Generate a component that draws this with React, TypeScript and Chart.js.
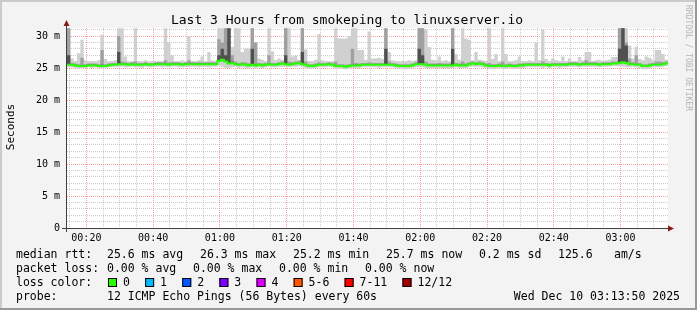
import React, { useEffect, useRef } from 'react';
import { Chart, registerables } from 'chart.js';
Chart.register(...registerables);

const W = 697;
const H = 310;
const START_MIN = 14.2; // graph starts at 00:14:12
const SPAN_MIN = 180;

const titleText = 'Last 3 Hours from smokeping to linuxserver.io';
const yAxisTitle = 'Seconds';
const watermark = 'RRDTOOL / TOBI OETIKER';

const timeTicks = [20, 40, 60, 80, 100, 120, 140, 160, 180];
const timeTickLabels = ['00:20', '00:40', '01:00', '01:20', '01:40', '02:00', '02:20', '02:40', '03:00'];
const yTicks = [0, 5, 10, 15, 20, 25, 30];
const yTickLabels = ['0', '5 m', '10 m', '15 m', '20 m', '25 m', '30 m'];

// per-minute median rtt (ms)
const median = [
  25.5, 25.5, 25.4, 25.3, 25.3, 25.3, 25.4, 25.4, 25.4, 25.3,
  25.3, 25.3, 25.4, 25.5, 25.5, 25.6, 25.6, 25.6, 25.5, 25.6,
  25.5, 25.5, 25.5, 25.6, 25.5, 25.5, 25.6, 25.6, 25.6, 25.6,
  25.5, 25.6, 25.6, 25.6, 25.5, 25.6, 25.6, 25.6, 25.6, 25.6,
  25.6, 25.6, 25.6, 25.6, 25.6, 26.1, 26.3, 26.0, 25.7, 25.8,
  25.6, 25.5, 25.6, 25.5, 25.4, 25.5, 25.4, 25.5, 25.4, 25.5,
  25.6, 25.5, 25.5, 25.6, 25.7, 25.6, 25.5, 25.6, 25.7, 25.8,
  25.6, 25.5, 25.3, 25.3, 25.4, 25.5, 25.5, 25.5, 25.6, 25.5,
  25.3, 25.3, 25.3, 25.2, 25.3, 25.4, 25.4, 25.4, 25.5, 25.5,
  25.5, 25.5, 25.5, 25.5, 25.5, 25.5, 25.5, 25.5, 25.4, 25.3,
  25.3, 25.3, 25.3, 25.4, 25.6, 25.6, 25.6, 25.5, 25.4, 25.4,
  25.4, 25.4, 25.4, 25.4, 25.4, 25.4, 25.5, 25.4, 25.4, 25.4,
  25.6, 25.7, 25.6, 25.7, 25.6, 25.4, 25.3, 25.3, 25.3, 25.4,
  25.3, 25.3, 25.4, 25.3, 25.3, 25.4, 25.4, 25.5, 25.5, 25.5,
  25.5, 25.5, 25.5, 25.5, 25.4, 25.5, 25.5, 25.5, 25.5, 25.5,
  25.6, 25.6, 25.6, 25.5, 25.6, 25.6, 25.6, 25.6, 25.6, 25.5,
  25.6, 25.6, 25.6, 25.7, 25.7, 25.8, 25.9, 25.8, 25.6, 25.6,
  25.5, 25.5, 25.3, 25.3, 25.4, 25.5, 25.5, 25.5, 25.6, 25.7,
];

// slowest ping of each minute (light smoke top)
const smokeMax = [
  31.2, 26.5, 26.1, 27.3, 29.4, 26.2, 26.0, 26.1, 26.0, 26.2,
  30.2, 26.4, 26.0, 26.1, 26.2, 31.2, 31.2, 26.8, 26.1, 26.0,
  31.2, 26.1, 26.0, 26.2, 26.0, 26.1, 26.0, 26.1, 26.0, 31.2,
  29.0, 27.0, 26.1, 26.0, 26.2, 26.0, 30.0, 26.1, 26.0, 26.2,
  26.8, 26.0, 27.5, 26.2, 26.1, 31.2, 31.2, 31.2, 31.2, 28.3,
  31.2, 31.2, 27.5, 28.0, 28.0, 31.2, 29.0, 26.5, 26.3, 26.1,
  31.2, 27.6, 26.2, 26.5, 26.3, 31.2, 31.2, 26.8, 26.9, 26.3,
  31.2, 27.9, 26.1, 26.0, 26.3, 30.3, 26.2, 26.1, 26.0, 26.1,
  31.2, 29.6, 29.6, 29.6, 30.0, 31.2, 31.2, 27.8, 27.8, 26.3,
  30.7, 26.5, 26.5, 26.6, 26.4, 31.2, 27.5, 26.2, 26.1, 26.0,
  26.1, 26.0, 26.2, 26.1, 26.2, 31.2, 31.2, 31.0, 28.3, 26.3,
  26.2, 26.8, 26.1, 26.2, 26.0, 31.2, 27.2, 26.3, 31.2, 29.6,
  29.4, 26.2, 27.5, 26.3, 26.2, 26.1, 31.2, 26.4, 27.2, 26.1,
  31.2, 27.2, 26.0, 26.1, 26.2, 26.8, 26.1, 26.0, 26.2, 26.1,
  29.0, 26.2, 31.0, 26.4, 26.1, 26.5, 26.2, 26.1, 26.8, 26.0,
  26.5, 26.1, 26.0, 26.7, 26.2, 27.5, 27.5, 26.1, 26.2, 26.3,
  26.1, 26.2, 26.3, 26.7, 26.7, 31.2, 31.2, 31.2, 28.5, 26.5,
  28.3, 26.4, 26.2, 26.8, 26.6, 26.3, 27.8, 27.8, 27.2, 26.3,
];

// inner pings (medium smoke top)
const smokeMid = [
  31.2, 25.8, 25.7, 25.6, 26.6, 25.6, 25.7, 25.7, 25.7, 25.6,
  27.8, 25.6, 25.7, 25.8, 25.8, 30.0, 26.0, 25.9, 25.8, 25.9,
  26.0, 25.8, 25.8, 25.9, 25.8, 25.8, 25.9, 25.9, 25.9, 26.2,
  25.9, 25.9, 25.9, 25.9, 25.8, 25.9, 26.2, 25.9, 25.9, 25.9,
  25.9, 25.9, 25.9, 25.9, 25.9, 29.5, 29.0, 31.2, 31.2, 27.0,
  26.0, 25.8, 25.9, 25.9, 25.7, 31.2, 29.0, 25.8, 25.7, 25.8,
  27.0, 25.8, 25.8, 25.9, 26.0, 31.2, 26.0, 25.9, 26.0, 26.1,
  31.2, 26.0, 25.6, 25.6, 25.7, 25.9, 25.8, 25.8, 25.9, 25.8,
  26.0, 25.6, 25.6, 25.5, 25.6, 28.0, 25.8, 25.7, 25.8, 25.8,
  25.9, 25.8, 25.8, 25.8, 25.8, 31.2, 26.0, 25.8, 25.7, 25.6,
  25.6, 25.6, 25.6, 25.7, 25.9, 31.2, 31.2, 26.0, 25.7, 25.7,
  25.7, 25.8, 25.7, 25.7, 25.7, 31.2, 25.8, 25.7, 26.0, 25.7,
  25.9, 26.0, 25.9, 26.0, 25.9, 25.7, 25.8, 25.6, 25.6, 25.7,
  26.0, 25.6, 25.7, 25.6, 25.6, 25.7, 25.7, 25.8, 25.8, 25.8,
  25.8, 25.8, 26.0, 25.8, 25.7, 25.8, 25.8, 25.8, 25.8, 25.8,
  25.9, 25.9, 25.9, 25.8, 25.9, 26.2, 25.9, 25.9, 25.9, 25.8,
  25.9, 25.9, 25.9, 26.0, 26.0, 31.2, 31.2, 29.0, 26.5, 25.9,
  27.0, 25.8, 25.6, 25.6, 25.7, 25.8, 26.0, 26.0, 25.9, 26.0,
];

// innermost pings (dark smoke top)
const smokeDark = [
  27.0, 25.6, 25.5, 25.4, 25.4, 25.4, 25.5, 25.5, 25.5, 25.4,
  25.5, 25.4, 25.5, 25.6, 25.6, 27.5, 25.7, 25.7, 25.6, 25.7,
  25.6, 25.6, 25.6, 25.7, 25.6, 25.6, 25.7, 25.7, 25.7, 25.7,
  25.6, 25.7, 25.7, 25.7, 25.6, 25.7, 25.7, 25.7, 25.7, 25.7,
  25.7, 25.7, 25.7, 25.7, 25.7, 27.0, 28.0, 27.0, 31.2, 26.0,
  25.7, 25.6, 25.7, 25.6, 25.5, 28.0, 25.6, 25.6, 25.5, 25.6,
  25.7, 25.6, 25.6, 25.7, 25.8, 27.0, 25.6, 25.7, 25.8, 25.9,
  27.5, 25.6, 25.4, 25.4, 25.5, 25.6, 25.6, 25.6, 25.7, 25.6,
  25.4, 25.4, 25.4, 25.3, 25.4, 25.5, 25.5, 25.5, 25.6, 25.6,
  25.6, 25.6, 25.6, 25.6, 25.6, 28.0, 25.6, 25.6, 25.5, 25.4,
  25.4, 25.4, 25.4, 25.5, 25.7, 28.0, 27.0, 25.6, 25.5, 25.5,
  25.5, 25.5, 25.5, 25.5, 25.5, 28.0, 25.6, 25.5, 25.5, 25.5,
  25.7, 25.8, 25.7, 25.8, 25.7, 25.5, 25.4, 25.4, 25.4, 25.5,
  25.4, 25.4, 25.5, 25.4, 25.4, 25.5, 25.5, 25.6, 25.6, 25.6,
  25.6, 25.6, 25.6, 25.6, 25.5, 25.6, 25.6, 25.6, 25.6, 25.6,
  25.7, 25.7, 25.7, 25.6, 25.7, 25.7, 25.7, 25.7, 25.7, 25.6,
  25.7, 25.7, 25.7, 25.8, 25.8, 28.0, 31.2, 28.5, 25.7, 25.7,
  25.6, 25.6, 25.4, 25.4, 25.5, 25.6, 25.6, 25.6, 25.7, 25.8,
];

// fastest ping of each minute (smoke bottom)
const smokeLow = [
  25.1, 25.1, 25.0, 24.9, 25.0, 25.0, 25.1, 25.0, 25.1, 25.0,
  24.9, 25.0, 25.1, 25.1, 25.2, 25.1, 25.2, 25.1, 25.1, 25.2,
  25.1, 25.1, 25.0, 25.2, 25.1, 25.1, 25.2, 25.2, 25.1, 25.2,
  25.1, 25.2, 25.2, 25.1, 25.1, 25.2, 25.1, 25.2, 25.2, 25.1,
  25.2, 25.2, 25.1, 25.2, 25.2, 25.4, 25.2, 25.0, 25.0, 25.1,
  25.2, 25.0, 25.1, 25.0, 25.0, 25.1, 25.0, 25.1, 25.0, 25.1,
  25.2, 25.1, 25.1, 25.2, 25.2, 25.1, 25.1, 25.2, 25.2, 25.3,
  25.1, 25.0, 24.9, 24.9, 25.0, 25.1, 25.1, 25.1, 25.2, 25.1,
  24.9, 24.9, 24.9, 24.8, 24.9, 25.0, 25.0, 25.0, 25.1, 25.1,
  25.1, 25.1, 25.1, 25.0, 25.1, 25.1, 25.1, 25.1, 25.0, 24.9,
  24.9, 24.8, 24.9, 25.0, 25.1, 25.1, 25.1, 25.0, 25.0, 25.0,
  25.0, 25.0, 25.0, 25.0, 24.9, 25.0, 25.1, 25.0, 25.0, 25.0,
  25.2, 25.2, 25.2, 25.2, 25.1, 25.0, 24.9, 24.8, 24.9, 25.0,
  24.9, 24.9, 25.0, 24.9, 24.9, 25.0, 25.0, 25.1, 25.1, 25.1,
  25.1, 25.1, 25.0, 25.1, 25.0, 25.1, 25.1, 25.0, 25.1, 25.1,
  25.2, 25.2, 25.2, 25.1, 25.2, 25.2, 25.2, 25.2, 25.2, 25.1,
  25.2, 25.2, 25.2, 25.3, 25.3, 25.3, 25.2, 25.1, 25.1, 25.2,
  25.1, 25.0, 24.8, 24.8, 24.9, 25.1, 25.1, 25.1, 25.2, 25.3,
];

const rttLabel = 'median rtt:';
const rttStats = ['25.6 ms avg', '26.3 ms max', '25.2 ms min', '25.7 ms now', '0.2 ms sd'];
const rttExtra = ['125.6', 'am/s'];
const lossLabel = 'packet loss:';
const lossStats = ['0.00 % avg', '0.00 % max', '0.00 % min', '0.00 % now'];
const lossColorLabel = 'loss color:';
const lossLabels = ['0', '1', '2', '3', '4', '5-6', '7-11', '12/12'];
const lossColors = ['#26ff00', '#00b8ff', '#0059ff', '#7e00ff', '#dd00ff', '#ff5500', '#ff0000', '#a10000'];
const probeLabel = 'probe:';
const probeText = '12 ICMP Echo Pings (56 Bytes) every 60s';
const dateText = 'Wed Dec 10 03:13:50 2025';

const MONO = '"DejaVu Sans Mono", monospace';
const MGRID = 'rgba(255,0,0,0.38)';
const GRID = 'rgba(120,120,120,0.38)';

const toPoints = (vals: number[]) => {
  const pts = vals.map((v, i) => ({ x: START_MIN + i, y: v }));
  pts.push({ x: START_MIN + vals.length, y: vals[vals.length - 1] });
  return pts;
};

const decor = {
  id: 'decor',
  beforeDraw(chart: any) {
    const { ctx, chartArea: a } = chart;
    ctx.save();
    ctx.fillStyle = '#f3f3f3';
    ctx.fillRect(0, 0, W, H);
    ctx.fillStyle = '#cbcbcb';
    ctx.fillRect(0, 0, W, 2);
    ctx.fillRect(0, 0, 2, H);
    ctx.fillStyle = '#999999';
    ctx.fillRect(0, H - 2, W, 2);
    ctx.fillRect(W - 2, 0, 2, H);
    ctx.fillStyle = '#ffffff';
    ctx.fillRect(a.left, a.top, a.right - a.left, a.bottom - a.top);
    ctx.restore();
  },
  afterDatasetsDraw(chart: any) {
    const { ctx, chartArea: a } = chart;
    ctx.save();
    ctx.strokeStyle = '#404040';
    ctx.lineWidth = 1;
    ctx.beginPath();
    ctx.moveTo(a.left - 0.5, a.bottom + 4);
    ctx.lineTo(a.left - 0.5, a.top - 3);
    ctx.moveTo(a.left - 5, a.bottom + 0.5);
    ctx.lineTo(a.right + 2, a.bottom + 0.5);
    ctx.stroke();
    ctx.fillStyle = '#8b1a1a';
    ctx.beginPath();
    ctx.moveTo(a.left - 0.5, a.top - 8);
    ctx.lineTo(a.left - 3.5, a.top - 2);
    ctx.lineTo(a.left + 2.5, a.top - 2);
    ctx.closePath();
    ctx.fill();
    ctx.beginPath();
    ctx.moveTo(a.right + 6, a.bottom + 0.5);
    ctx.lineTo(a.right, a.bottom - 2.5);
    ctx.lineTo(a.right, a.bottom + 3.5);
    ctx.closePath();
    ctx.fill();
    ctx.restore();
  },
  afterDraw(chart: any) {
    const { ctx } = chart;
    ctx.save();
    ctx.fillStyle = '#000';
    ctx.textBaseline = 'alphabetic';
    ctx.textAlign = 'center';
    ctx.font = `13px ${MONO}`;
    ctx.fillText(titleText, 347, 24);

    ctx.save();
    ctx.translate(11, 127);
    ctx.rotate(-Math.PI / 2);
    ctx.font = `11px ${MONO}`;
    ctx.textBaseline = 'middle';
    ctx.fillText(yAxisTitle, 0, 0);
    ctx.restore();

    ctx.save();
    ctx.translate(688, 5);
    ctx.rotate(Math.PI / 2);
    ctx.font = `8px ${MONO}`;
    ctx.fillStyle = '#b4b4b4';
    ctx.textAlign = 'left';
    ctx.textBaseline = 'middle';
    ctx.fillText(watermark, 0, 0);
    ctx.restore();

    ctx.font = `11.5px ${MONO}`;
    ctx.textAlign = 'left';
    ctx.fillStyle = '#000';
    // line 1
    ctx.fillText(rttLabel, 16, 258);
    rttStats.forEach((s, i) => ctx.fillText(s, 107 + i * 93, 258));
    ctx.fillText(rttExtra[0], 558, 258);
    ctx.fillText(rttExtra[1], 614, 258);
    // line 2
    ctx.fillText(lossLabel, 16, 272);
    lossStats.forEach((s, i) => ctx.fillText(s, 107 + i * 86, 272));
    // line 3
    ctx.fillText(lossColorLabel, 16, 286);
    let x = 108;
    lossLabels.forEach((lab, i) => {
      ctx.fillStyle = lossColors[i];
      ctx.fillRect(x, 278, 9, 9);
      ctx.strokeStyle = '#000';
      ctx.lineWidth = 1;
      ctx.strokeRect(x + 0.5, 278.5, 8, 8);
      ctx.fillStyle = '#000';
      ctx.fillText(lab, x + 15, 286);
      x += 15 + ctx.measureText(lab).width + 15.2;
    });
    // line 4
    ctx.fillText(probeLabel, 16, 300);
    ctx.fillText(probeText, 107, 300);
    ctx.textAlign = 'right';
    ctx.fillText(dateText, 680, 300);
    ctx.restore();
  },
};

export default function App() {
  const ref = useRef<HTMLCanvasElement | null>(null);
  useEffect(() => {
    document.body.style.margin = '0';
    const canvas = ref.current!;
    const minorX: number[] = [];
    for (let v = 15; v < START_MIN + SPAN_MIN; v += 5) if (v % 20 !== 0) minorX.push(v);
    const minorY: number[] = [];
    for (let v = 1; v <= 31; v++) if (v % 5 !== 0) minorY.push(v);

    const band = { type: 'line', pointRadius: 0, borderWidth: 0, borderColor: 'rgba(0,0,0,0)', stepped: true, xAxisID: 'x', yAxisID: 'y' };
    const chart = new Chart(canvas, {
      type: 'line',
      data: {
        datasets: [
          { ...band, data: toPoints(smokeLow), fill: false, order: 20 },
          { ...band, data: toPoints(smokeMax), fill: '-1', backgroundColor: '#d0d0d0', order: 19 },
          { ...band, data: toPoints(median), fill: false, order: 18 },
          { ...band, data: toPoints(smokeMid), fill: '-1', backgroundColor: '#a0a0a0', order: 17 },
          { ...band, data: toPoints(median), fill: false, order: 16 },
          { ...band, data: toPoints(smokeDark), fill: '-1', backgroundColor: '#505050', order: 15 },
          { ...band, data: toPoints(median), fill: false, borderWidth: 2, borderColor: '#26ff00', order: 1 },
        ] as any,
      },
      options: {
        animation: false,
        responsive: false,
        devicePixelRatio: 1,
        events: [],
        layout: { padding: { left: 0, right: 29, top: 28, bottom: 0 } },
        plugins: { legend: { display: false }, tooltip: { enabled: false }, title: { display: false } },
        scales: {
          x: {
            type: 'linear', position: 'bottom', min: START_MIN, max: START_MIN + SPAN_MIN,
            afterBuildTicks: (ax: any) => { ax.ticks = timeTicks.map((v) => ({ value: v })); },
            afterFit: (s: any) => { s.height = 82; },
            ticks: {
              autoSkip: false, maxRotation: 0, padding: 4, color: '#000',
              font: { family: MONO, size: 10 },
              callback: (v: any) => timeTickLabels[timeTicks.indexOf(Number(v))] ?? '',
            },
            grid: { color: MGRID, drawTicks: false, lineWidth: 1 },
            border: { display: false, dash: [1, 1] },
          },
          xMinor: {
            type: 'linear', position: 'bottom', min: START_MIN, max: START_MIN + SPAN_MIN,
            afterBuildTicks: (ax: any) => { ax.ticks = minorX.map((v) => ({ value: v })); },
            afterFit: (s: any) => { s.height = 0; },
            ticks: { display: false },
            grid: { color: GRID, drawTicks: false, lineWidth: 1 },
            border: { display: false, dash: [1, 1] },
          },
          y: {
            type: 'linear', position: 'left', min: 0, max: 31.25,
            afterBuildTicks: (ax: any) => { ax.ticks = yTicks.map((v) => ({ value: v })); },
            afterFit: (s: any) => { s.width = 67; },
            ticks: {
              padding: 7, color: '#000', font: { family: MONO, size: 10 },
              callback: (v: any) => yTickLabels[yTicks.indexOf(Number(v))] ?? '',
            },
            grid: { color: MGRID, drawTicks: false, lineWidth: 1 },
            border: { display: false, dash: [1, 1] },
          },
          yMinor: {
            type: 'linear', position: 'left', min: 0, max: 31.25,
            afterBuildTicks: (ax: any) => { ax.ticks = minorY.map((v) => ({ value: v })); },
            afterFit: (s: any) => { s.width = 0; },
            ticks: { display: false },
            grid: { color: GRID, drawTicks: false, lineWidth: 1 },
            border: { display: false, dash: [1, 1] },
          },
        },
      } as any,
      plugins: [decor],
    });
    return () => chart.destroy();
  }, []);
  return (
    <div style={{ position: 'absolute', left: 0, top: 0, width: W, height: H }}>
      <canvas ref={ref} width={W} height={H} style={{ width: W, height: H, display: 'block' }} />
    </div>
  );
}
